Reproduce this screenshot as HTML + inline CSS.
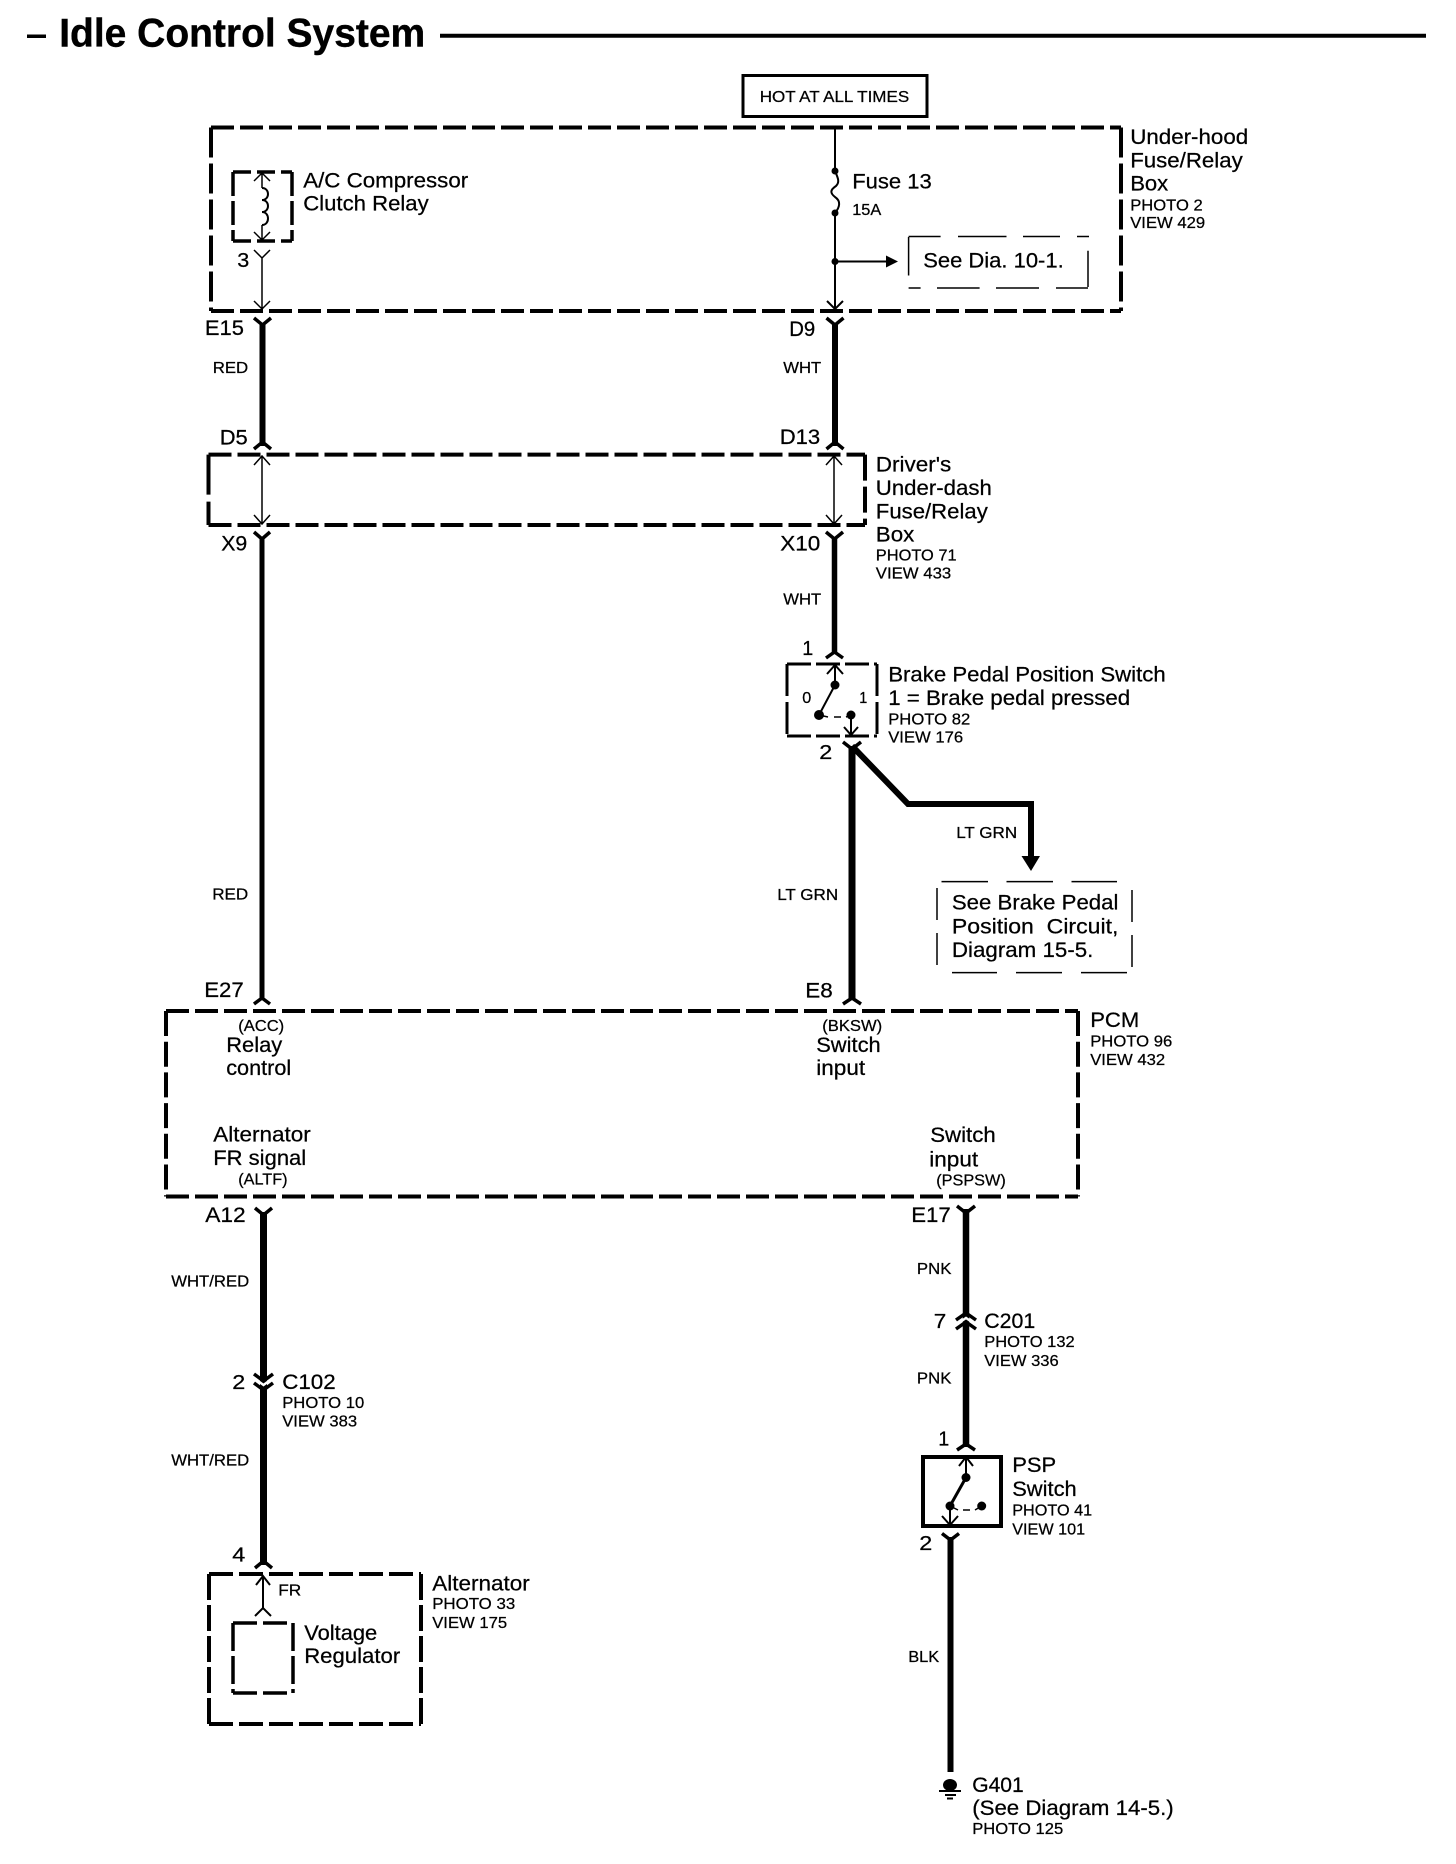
<!DOCTYPE html>
<html><head><meta charset="utf-8"><title>Idle Control System</title>
<style>
html,body{margin:0;padding:0;background:#fff}
svg{display:block}
text{font-family:"Liberation Sans",sans-serif;fill:#000;stroke:#000;stroke-width:.25px;transform:translateX(-.8px)}
.t{font-size:40px;font-weight:bold;stroke-width:.4px}
.b{font-size:21.5px}
.s{font-size:16px}
.n{font-size:20px}
.w{fill:none;stroke:#000;stroke-width:6}
.c{fill:none;stroke:#000;stroke-width:3.5}
.h{fill:none;stroke:#000;stroke-width:1.5}
.m{fill:none;stroke:#000;stroke-width:2}
.d{fill:none;stroke:#000;stroke-width:4}
.x{fill:none;stroke:#fff;stroke-width:2.5}
</style></head><body>
<svg width="1456" height="1864" viewBox="0 0 1456 1864" xmlns="http://www.w3.org/2000/svg">
<rect width="1456" height="1864" fill="#fff"/>
<!-- Title -->
<rect x="27" y="34.5" width="19" height="3.5"/>
<text class="t" x="60" y="46.5" textLength="366" lengthAdjust="spacingAndGlyphs">Idle Control System</text>
<line x1="440" y1="35.7" x2="1426" y2="35.7" stroke="#000" stroke-width="4"/>
<!-- HOT box -->
<rect x="743" y="75.5" width="184" height="41" fill="none" stroke="#000" stroke-width="3"/>
<text class="s" x="760.5" y="102" textLength="149.5" lengthAdjust="spacingAndGlyphs">HOT AT ALL TIMES</text>
<!-- Under-hood box -->
<path class="d" stroke-dasharray="23 6" d="M211 127.5H1121"/>
<path class="d" stroke-dasharray="23 6" d="M211 311H1121"/>
<path class="d" stroke-dasharray="30 6" d="M211 127.5V311"/>
<path class="d" stroke-dasharray="30 6" d="M1121 127.5V311"/>
<!-- A/C relay -->
<path class="d" style="stroke-width:3.5" stroke-dasharray="18 6" d="M233 172H292"/>
<path class="d" style="stroke-width:3.5" stroke-dasharray="18 6" d="M233 241H292"/>
<path class="d" style="stroke-width:3.5" stroke-dasharray="24 5" d="M233 172V241"/>
<path class="d" style="stroke-width:3.5" stroke-dasharray="24 5" d="M292 172V241"/>
<path class="h" d="M262 173V188M262 225V240M254 181L262 173L270 181M254 232L262 240L270 232"/>
<path class="m" d="M262 188C270 188 270 200 262 200C270 200 270 212 262 212C270 212 270 225 262 225"/>
<path class="h" d="M254 250L262 258L270 250M262 258V309M254 301L262 309L270 301"/>
<text class="n" x="238" y="267" textLength="12" lengthAdjust="spacingAndGlyphs">3</text>
<text class="b" x="304" y="187.5" textLength="165" lengthAdjust="spacingAndGlyphs">A/C Compressor</text>
<text class="b" x="304" y="210.5" textLength="125.5" lengthAdjust="spacingAndGlyphs">Clutch Relay</text>
<!-- Fuse wire -->
<path class="m" d="M835 127.5V171M835 213V309M827 301L835 309L843 301"/>
<path class="m" d="M835 171C838 178 840 182 836 186C830 190 830 193 835 197C841 201 840 207 835 213"/>
<circle cx="835" cy="171" r="3.5"/><circle cx="835" cy="213" r="3.5"/><circle cx="835" cy="261.5" r="3.5"/>
<path class="m" d="M835 261.5H887"/>
<path d="M886 255.5L898 261.5L886 267.5Z"/>
<text class="b" x="853" y="188.7" textLength="79.5" lengthAdjust="spacingAndGlyphs">Fuse 13</text>
<text class="s" x="853" y="215" textLength="29" lengthAdjust="spacingAndGlyphs">15A</text>
<!-- See Dia box -->
<path class="h" d="M908.6 237V275.5M908.6 236.5H940.6M958 236.5H1006.5M1023 236.5H1060M1077 236.5H1089M1088 250.7V287M908.6 288H920.6M937 288H979.6M996 288H1039M1056 288H1088"/>
<text class="b" x="924" y="267.5" textLength="140.5" lengthAdjust="spacingAndGlyphs">See Dia. 10-1.</text>
<text class="b" x="1131" y="144" textLength="118" lengthAdjust="spacingAndGlyphs">Under-hood</text>
<text class="b" x="1131" y="167.6" textLength="112.5" lengthAdjust="spacingAndGlyphs">Fuse/Relay</text>
<text class="b" x="1131" y="190.6" textLength="38" lengthAdjust="spacingAndGlyphs">Box</text>
<text class="s" x="1131" y="210.5" textLength="72.5" lengthAdjust="spacingAndGlyphs">PHOTO 2</text>
<text class="s" x="1131" y="228" textLength="75" lengthAdjust="spacingAndGlyphs">VIEW 429</text>
<!-- Wires E15-D5, D9-D13 -->
<path class="w" d="M262.5 323V446M835 323V446"/>
<path class="c" d="M254 318L262.5 325L271 318M826.5 318L835 325L843.5 318M254 449L262.5 442L271 449M826.5 449L835 442L843.5 449"/>
<text class="b" x="205.7" y="335" textLength="39" lengthAdjust="spacingAndGlyphs">E15</text>
<text class="s" x="213.5" y="373" textLength="35.5" lengthAdjust="spacingAndGlyphs">RED</text>
<text class="b" x="220.5" y="444.5" textLength="28" lengthAdjust="spacingAndGlyphs">D5</text>
<text class="b" x="790" y="336" textLength="26" lengthAdjust="spacingAndGlyphs">D9</text>
<text class="s" x="784" y="373" textLength="38" lengthAdjust="spacingAndGlyphs">WHT</text>
<text class="b" x="780.5" y="444" textLength="40.5" lengthAdjust="spacingAndGlyphs">D13</text>
<!-- Driver's box -->
<path class="d" stroke-dasharray="23 6" d="M208.5 454.6H865"/>
<path class="d" stroke-dasharray="23 6" d="M208.5 525H865"/>
<path class="d" stroke-dasharray="40 7" d="M208.5 454.6V525"/>
<path class="d" stroke-dasharray="26 6" d="M865 454.6V525"/>
<path class="h" d="M262 456V524M254 465L262 456L270 465M254 515L262 524L270 515M834 456V524M826 465L834 456L842 465M826 515L834 524L842 515"/>
<text class="b" x="876.6" y="471.5" textLength="75.5" lengthAdjust="spacingAndGlyphs">Driver's</text>
<text class="b" x="876.6" y="495" textLength="116" lengthAdjust="spacingAndGlyphs">Under-dash</text>
<text class="b" x="876.6" y="518.6" textLength="112" lengthAdjust="spacingAndGlyphs">Fuse/Relay</text>
<text class="b" x="876.6" y="541.5" textLength="38.5" lengthAdjust="spacingAndGlyphs">Box</text>
<text class="s" x="876.6" y="560.6" textLength="80.8" lengthAdjust="spacingAndGlyphs">PHOTO 71</text>
<text class="s" x="876.6" y="578.6" textLength="75.4" lengthAdjust="spacingAndGlyphs">VIEW 433</text>
<!-- X9 to E27 -->
<path class="w" style="stroke-width:5" d="M262 537V1000"/>
<path class="w" style="stroke-width:5.5" d="M834.5 537V654"/>
<path class="c" d="M254 532L262 539L270 532M826 532L834.5 539L843 532M254 1004L262 998L270 1004M826 658L834.5 652L843 658"/>
<text class="b" x="222" y="550.5" textLength="26" lengthAdjust="spacingAndGlyphs">X9</text>
<text class="b" x="781" y="550.5" textLength="40" lengthAdjust="spacingAndGlyphs">X10</text>
<text class="s" x="784" y="604.5" textLength="38" lengthAdjust="spacingAndGlyphs">WHT</text>
<text class="s" x="213" y="899.5" textLength="36" lengthAdjust="spacingAndGlyphs">RED</text>
<!-- Brake switch -->
<path class="d" style="stroke-width:3" stroke-dasharray="24 5" d="M787 664H877"/>
<path class="d" style="stroke-width:3" stroke-dasharray="24 5" d="M787 736H877"/>
<path class="d" style="stroke-width:3" stroke-dasharray="32 6" d="M787 664V736"/>
<path class="d" style="stroke-width:3" stroke-dasharray="32 6" d="M877 664V736"/>
<path class="m" d="M835 685V666M827 674L835 665L843 674M835 685L819 715M851 715V735M844 727L851 735L858 727"/>
<path class="h" d="M819 715L828 717M834 717H841M846 717L851 715"/>
<circle cx="835" cy="685" r="4.5"/><circle cx="819" cy="715" r="5"/><circle cx="851" cy="715" r="4.5"/>
<text class="s" x="803" y="703" textLength="9" lengthAdjust="spacingAndGlyphs">0</text>
<text class="s" x="860" y="703" textLength="8" lengthAdjust="spacingAndGlyphs">1</text>
<text class="n" x="803" y="655" textLength="11" lengthAdjust="spacingAndGlyphs">1</text>
<text class="n" x="820" y="759" textLength="13" lengthAdjust="spacingAndGlyphs">2</text>
<text class="b" x="889" y="681.6" textLength="277.5" lengthAdjust="spacingAndGlyphs">Brake Pedal Position Switch</text>
<text class="b" x="889" y="705" textLength="242" lengthAdjust="spacingAndGlyphs">1 = Brake pedal pressed</text>
<text class="s" x="889" y="724.5" textLength="82" lengthAdjust="spacingAndGlyphs">PHOTO 82</text>
<text class="s" x="889" y="742.4" textLength="75" lengthAdjust="spacingAndGlyphs">VIEW 176</text>
<!-- Brake output -->
<path class="w" style="stroke-width:7" d="M852 746V1000"/>
<path class="w" style="stroke-width:6" d="M852 746L908 804H1031V858"/>
<path d="M1021.5 856H1040L1031 871Z"/>
<path class="c" d="M843 742L852 749L861 742M843 1004L852 998L861 1004"/>
<text class="s" x="957" y="838" textLength="61" lengthAdjust="spacingAndGlyphs">LT GRN</text>
<text class="s" x="778" y="900" textLength="61" lengthAdjust="spacingAndGlyphs">LT GRN</text>
<text class="b" x="806" y="997.5" textLength="27.5" lengthAdjust="spacingAndGlyphs">E8</text>
<!-- See brake box -->
<path class="h" d="M941.5 881.6H988M1006.5 881.6H1053M1071.5 881.6H1117M952 972.6H997M1016 972.6H1062M1081 972.6H1127M937 888V920M937 933V965M1132 890V922M1132 935V967"/>
<text class="b" x="952.7" y="909.5" textLength="166.5" lengthAdjust="spacingAndGlyphs">See Brake Pedal</text>
<text class="b" x="952.7" y="933.5" textLength="166.5" lengthAdjust="spacingAndGlyphs" xml:space="preserve">Position  Circuit,</text>
<text class="b" x="952.7" y="957" textLength="141.5" lengthAdjust="spacingAndGlyphs">Diagram 15-5.</text>
<!-- PCM -->
<path class="d" stroke-dasharray="23 6" d="M166 1011H1078"/>
<path class="d" stroke-dasharray="23 6" d="M166 1196.5H1078"/>
<path class="d" stroke-dasharray="25 5.7" d="M166 1011V1196.5"/>
<path class="d" stroke-dasharray="25 5.7" d="M1078 1011V1196.5"/>
<text class="b" x="205" y="997" textLength="39.5" lengthAdjust="spacingAndGlyphs">E27</text>
<text class="s" x="239" y="1031" textLength="46" lengthAdjust="spacingAndGlyphs">(ACC)</text>
<text class="b" x="227" y="1052" textLength="56" lengthAdjust="spacingAndGlyphs">Relay</text>
<text class="b" x="227" y="1075" textLength="65" lengthAdjust="spacingAndGlyphs">control</text>
<text class="b" x="214" y="1141.5" textLength="97.5" lengthAdjust="spacingAndGlyphs">Alternator</text>
<text class="b" x="214" y="1165" textLength="93" lengthAdjust="spacingAndGlyphs">FR signal</text>
<text class="s" x="239" y="1184.5" textLength="49.4" lengthAdjust="spacingAndGlyphs">(ALTF)</text>
<text class="s" x="823" y="1031" textLength="60" lengthAdjust="spacingAndGlyphs">(BKSW)</text>
<text class="b" x="817" y="1052" textLength="64.5" lengthAdjust="spacingAndGlyphs">Switch</text>
<text class="b" x="817" y="1075" textLength="49" lengthAdjust="spacingAndGlyphs">input</text>
<text class="b" x="931" y="1142" textLength="65.5" lengthAdjust="spacingAndGlyphs">Switch</text>
<text class="b" x="930" y="1166.5" textLength="49" lengthAdjust="spacingAndGlyphs">input</text>
<text class="s" x="937" y="1185.5" textLength="69.6" lengthAdjust="spacingAndGlyphs">(PSPSW)</text>
<text class="b" x="1091" y="1027" textLength="49" lengthAdjust="spacingAndGlyphs">PCM</text>
<text class="s" x="1091" y="1046.5" textLength="82" lengthAdjust="spacingAndGlyphs">PHOTO 96</text>
<text class="s" x="1091" y="1065" textLength="75" lengthAdjust="spacingAndGlyphs">VIEW 432</text>
<!-- A12 wire -->
<path class="w" style="stroke-width:7" d="M263.5 1212V1565"/>
<path class="c" d="M255 1208L263.5 1215L272 1208"/>
<path class="c" d="M254 1374L263.5 1381L273 1374M254 1383L263.5 1390L273 1383"/>
<path class="x" d="M258 1381L263.5 1385L269 1381"/>
<path class="c" d="M255 1568L263.5 1561L272 1568"/>
<text class="b" x="206" y="1222" textLength="40.5" lengthAdjust="spacingAndGlyphs">A12</text>
<text class="s" x="172" y="1286.5" textLength="78" lengthAdjust="spacingAndGlyphs">WHT/RED</text>
<text class="s" x="172" y="1465.5" textLength="78" lengthAdjust="spacingAndGlyphs">WHT/RED</text>
<text class="n" x="233" y="1389" textLength="13" lengthAdjust="spacingAndGlyphs">2</text>
<text class="b" x="283" y="1389" textLength="53.5" lengthAdjust="spacingAndGlyphs">C102</text>
<text class="s" x="283" y="1408" textLength="82" lengthAdjust="spacingAndGlyphs">PHOTO 10</text>
<text class="s" x="283" y="1426.7" textLength="75" lengthAdjust="spacingAndGlyphs">VIEW 383</text>
<text class="n" x="233" y="1561.7" textLength="13" lengthAdjust="spacingAndGlyphs">4</text>
<!-- Alternator -->
<path class="d" stroke-dasharray="24 6" d="M209 1574H421"/>
<path class="d" stroke-dasharray="24 6" d="M209 1724H421"/>
<path class="d" stroke-dasharray="26 5" d="M209 1574V1724"/>
<path class="d" stroke-dasharray="26 5" d="M421 1574V1724"/>
<path class="d" style="stroke-width:3.5" stroke-dasharray="24 6" d="M233 1623H293"/>
<path class="d" style="stroke-width:3.5" stroke-dasharray="24 6" d="M233 1693H293"/>
<path class="d" style="stroke-width:3.5" stroke-dasharray="28 5" d="M233 1623V1693"/>
<path class="d" style="stroke-width:3.5" stroke-dasharray="28 5" d="M293 1623V1693"/>
<path class="m" d="M263 1576V1608M256 1585L263 1576L270 1585M255 1616L263 1608L271 1616"/>
<text class="s" x="279" y="1595.6" textLength="23" lengthAdjust="spacingAndGlyphs">FR</text>
<text class="b" x="433" y="1590.7" textLength="97.5" lengthAdjust="spacingAndGlyphs">Alternator</text>
<text class="s" x="433" y="1609" textLength="83" lengthAdjust="spacingAndGlyphs">PHOTO 33</text>
<text class="s" x="433" y="1628" textLength="75" lengthAdjust="spacingAndGlyphs">VIEW 175</text>
<text class="b" x="305" y="1640" textLength="73" lengthAdjust="spacingAndGlyphs">Voltage</text>
<text class="b" x="305" y="1663" textLength="96" lengthAdjust="spacingAndGlyphs">Regulator</text>
<!-- E17 wire -->
<path class="w" style="stroke-width:6.5" d="M966 1209V1447"/>
<path class="c" d="M957 1206L966 1213L975 1206"/>
<path class="c" d="M956 1320L966 1313L976 1320M956 1329L966 1322L976 1329"/>
<path class="x" d="M960 1322L966 1318L972 1322"/>
<path class="c" d="M957 1450L966 1444L975 1450"/>
<text class="b" x="912" y="1222" textLength="39.5" lengthAdjust="spacingAndGlyphs">E17</text>
<text class="s" x="917.7" y="1274" textLength="34.5" lengthAdjust="spacingAndGlyphs">PNK</text>
<text class="s" x="917.7" y="1383.5" textLength="34.5" lengthAdjust="spacingAndGlyphs">PNK</text>
<text class="n" x="934.5" y="1328" textLength="12.5" lengthAdjust="spacingAndGlyphs">7</text>
<text class="b" x="985" y="1328" textLength="51" lengthAdjust="spacingAndGlyphs">C201</text>
<text class="s" x="985" y="1347" textLength="90.5" lengthAdjust="spacingAndGlyphs">PHOTO 132</text>
<text class="s" x="985" y="1366" textLength="74.5" lengthAdjust="spacingAndGlyphs">VIEW 336</text>
<text class="n" x="939" y="1445.7" textLength="11" lengthAdjust="spacingAndGlyphs">1</text>
<!-- PSP -->
<rect x="923" y="1457" width="78" height="69" fill="none" stroke="#000" stroke-width="4"/>
<path class="m" d="M966 1477V1458M959 1466L966 1457L973 1466M950 1506V1525M942 1516L950 1525L958 1516"/>
<path class="d" style="stroke-width:3" d="M966 1477.5L950 1506"/>
<path class="h" d="M950 1506L958 1510M963 1510H970M975 1510L981.7 1506"/>
<circle cx="966" cy="1477.5" r="4.5"/><circle cx="950" cy="1506" r="4.5"/><circle cx="981.7" cy="1506" r="4.5"/>
<text class="b" x="1013" y="1472" textLength="44" lengthAdjust="spacingAndGlyphs">PSP</text>
<text class="b" x="1013" y="1496" textLength="64.5" lengthAdjust="spacingAndGlyphs">Switch</text>
<text class="s" x="1013" y="1515.7" textLength="80" lengthAdjust="spacingAndGlyphs">PHOTO 41</text>
<text class="s" x="1013" y="1534.7" textLength="73" lengthAdjust="spacingAndGlyphs">VIEW 101</text>
<text class="n" x="920" y="1550" textLength="13" lengthAdjust="spacingAndGlyphs">2</text>
<!-- BLK -->
<path class="w" d="M950.5 1537V1772"/>
<path class="c" d="M942 1533.5L950.5 1540L959 1533.5"/>
<text class="s" x="909" y="1662" textLength="31" lengthAdjust="spacingAndGlyphs">BLK</text>
<ellipse cx="950" cy="1785" rx="7" ry="6"/>
<path class="m" d="M939 1791H961M945 1795H956M947 1798.5H953"/>
<text class="b" x="973" y="1792" textLength="51.5" lengthAdjust="spacingAndGlyphs">G401</text>
<text class="b" x="973" y="1815" textLength="201.5" lengthAdjust="spacingAndGlyphs">(See Diagram 14-5.)</text>
<text class="s" x="973" y="1834" textLength="91" lengthAdjust="spacingAndGlyphs">PHOTO 125</text>
</svg>
</body></html>
